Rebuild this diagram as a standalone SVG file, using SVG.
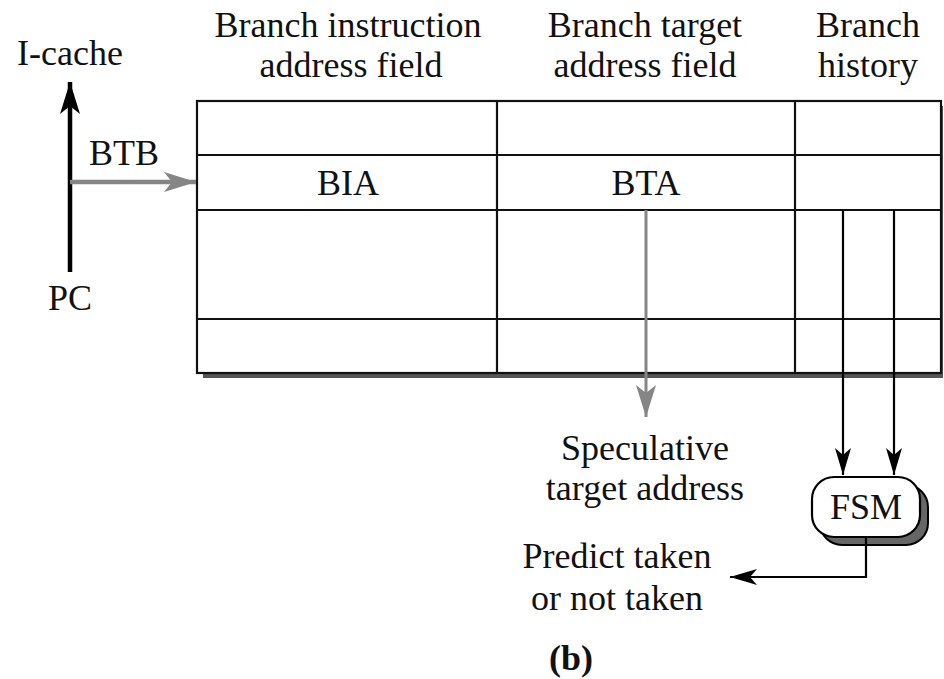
<svg xmlns="http://www.w3.org/2000/svg" width="944" height="679" viewBox="0 0 944 679">
<style>
text{font-family:'Liberation Serif','Tinos','Times New Roman','DejaVu Serif',serif;font-size:36px;fill:#111;text-anchor:middle}
.grid{stroke:#111;stroke-width:2.2;fill:none}
.blk{stroke:#000;fill:none}
.gry{stroke:#858585;fill:none}
</style>
<defs>
<marker id="ahB" markerUnits="userSpaceOnUse" viewBox="-32 -11 34 22" refX="0" refY="0" markerWidth="34" markerHeight="22" orient="auto">
<path d="M0,0 L-32,-10 L-24,0 L-32,10 Z" fill="#000"/>
</marker>
<marker id="ahG" markerUnits="userSpaceOnUse" viewBox="-32 -11 34 22" refX="0" refY="0" markerWidth="34" markerHeight="22" orient="auto">
<path d="M0,0 L-32,-10 L-24,0 L-32,10 Z" fill="#858585"/>
</marker>
<marker id="ahS" markerUnits="userSpaceOnUse" viewBox="-28 -9 30 18" refX="0" refY="0" markerWidth="30" markerHeight="18" orient="auto">
<path d="M0,0 L-27,-8 L-20,0 L-27,8 Z" fill="#000"/>
</marker>
</defs>

<g id="labels">
<text x="70" y="65">I-cache</text>
<text x="348" y="37">Branch instruction</text>
<text x="351" y="77">address field</text>
<text x="645" y="37">Branch target</text>
<text x="645" y="77">address field</text>
<text x="868" y="37">Branch</text>
<text x="868" y="77">history</text>
<text x="124" y="165">BTB</text>
<text x="70" y="310">PC</text>
<text x="645" y="460">Speculative</text>
<text x="645" y="500">target address</text>
<text x="617" y="568">Predict taken</text>
<text x="617" y="610">or not taken</text>
<text x="571" y="670" style="font-weight:bold">(b)</text>
</g>

<g id="btb-table">
<rect x="203" y="106" width="740" height="272" fill="#555"/>
<rect x="197" y="101" width="744" height="272" class="grid" style="fill:#fff"/>
<line class="grid" x1="197" y1="155" x2="941" y2="155"/>
<line class="grid" x1="197" y1="210" x2="941" y2="210"/>
<line class="grid" x1="197" y1="319" x2="941" y2="319"/>
<line class="grid" x1="497" y1="101" x2="497" y2="373"/>
<line class="grid" x1="795" y1="101" x2="795" y2="373"/>
<text x="348" y="195">BIA</text>
<text x="646" y="195">BTA</text>
</g>

<g id="fsm">
<rect x="820" y="485" width="108" height="60" rx="22" fill="#666" stroke="#000" stroke-width="2"/>
<rect x="812" y="477" width="108" height="60" rx="22" fill="#fff" stroke="#000" stroke-width="2.2"/>
<text x="866" y="519">FSM</text>
</g>

<g id="connectors">
<line class="blk" stroke-width="4.5" x1="70" y1="272" x2="70" y2="82" marker-end="url(#ahB)"/>
<line class="gry" stroke-width="4.5" x1="70" y1="182" x2="196" y2="182" marker-end="url(#ahG)"/>
<line class="gry" stroke-width="3" x1="646" y1="210" x2="646" y2="417" marker-end="url(#ahG)"/>
<line class="blk" stroke-width="2.2" x1="843" y1="210" x2="843" y2="475" marker-end="url(#ahS)"/>
<line class="blk" stroke-width="2.2" x1="894" y1="210" x2="894" y2="475" marker-end="url(#ahS)"/>
<polyline class="blk" stroke-width="2.2" points="866,537 866,577 730,577" marker-end="url(#ahS)"/>
</g>
</svg>
